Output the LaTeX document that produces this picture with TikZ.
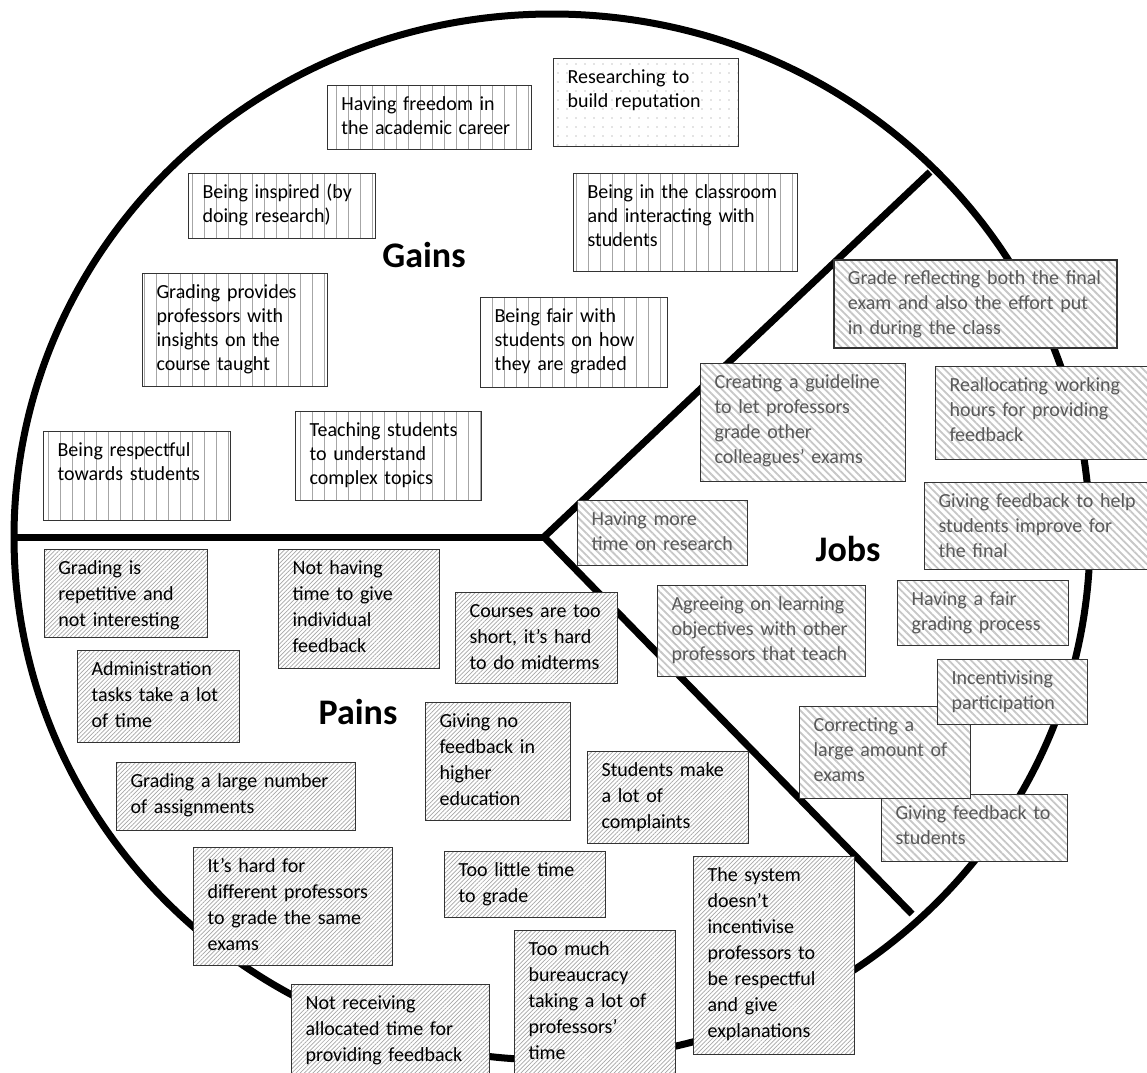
\documentclass[tikz,border=0pt]{standalone}
\usepackage{fontspec}
\setmainfont{Carlito}
\usepackage[rgb]{xcolor}
\usepackage{tikz}
\usetikzlibrary{patterns.meta}

\tikzset{
  rim/.style={draw=black, line width=7pt},
  divider/.style={draw=black, line width=7pt, line join=miter},
  card/.style={anchor=north west, draw=black!80, line width=1.2pt, inner xsep=14pt, inner ysep=8pt,
    text height=17pt, align=left, font=\fontsize{20}{24}\selectfont, preaction={fill=white}},
  cardsize/.style 2 args={text width={#1pt-28pt}, text depth={#2pt-33pt}},
  gain/.style={card, text=black, pattern={Lines[angle=90, distance=12pt, line width=0.6pt]}, pattern color=black!35},
  rep/.style={card, text=black, pattern={Dots[distance=9pt, radius=0.6pt]}, pattern color=black!45},
  pain/.style={card, text=black, font=\fontsize{20}{26}\selectfont,
    pattern={Lines[angle=45, distance=3pt, line width=0.7pt]}, pattern color=black!35},
  job/.style={card, text=black!65, font=\fontsize{20}{25}\selectfont,
    pattern={Lines[angle=-45, distance=5.2pt, line width=1.8pt]}, pattern color=black!22},
  title/.style={font=\fontsize{36}{40}\selectfont\bfseries, text=black}
}

\begin{document}
\begin{tikzpicture}[x=1pt, y=-1pt]

\useasboundingbox (0,0) rectangle (1147,1072);
\clip (0,0) rectangle (1147,1072);


% Profile rim and dividers
\coordinate (hub) at (544,537);
\coordinate (west) at (12,537);
\coordinate (northeast) at (930,172);
\coordinate (southeast) at (912,914);

\draw[rim] (552,537) ellipse [x radius=538, y radius=523];
\draw[divider] (northeast) -- (hub) -- (southeast);
\draw[divider] (west) -- (hub);

\path
(424,255) node[title] (gains) {Gains}
(358,712) node[title] (pains) {Pains}
(848,549) node[title] (jobs) {Jobs};


% Gains
\node[gain, cardsize={204}{64}] (freedom) at (327,85) {Having freedom in\\the academic career};
\node[rep, cardsize={185}{88}] (reputation) at (553,58) {Researching to\\build reputation};
\node[gain, cardsize={187}{65}] (inspired) at (188,173) {Being inspired (by\\doing research)};
\node[gain, cardsize={224}{98}] (classroom) at (573,173) {Being in the classroom\\and interacting with\\students};
\node[gain, cardsize={185}{113}] (insights) at (142,273) {Grading provides\\professors with\\insights on the\\course taught};
\node[gain, cardsize={187}{90}] (fair) at (480,297) {Being fair with\\students on how\\they are graded};
\node[gain, cardsize={186}{89}] (teaching) at (295,411) {Teaching students\\to understand\\complex topics};
\node[gain, cardsize={187}{89}] (respect) at (43,431) {Being respectful\\towards students};


% Pains
\node[pain, cardsize={163}{88}] (repetitive) at (44,549) {Grading is\\repetitive and\\not interesting};
\node[pain, cardsize={161}{119}] (notime) at (278,549) {Not having\\time to give\\individual\\feedback};
\node[pain, cardsize={162}{91}] (short) at (455,592) {Courses are too\\short, it’s hard\\to do midterms};
\node[pain, cardsize={162}{92}] (admin) at (77,650) {Administration\\tasks take a lot\\of time};
\node[pain, cardsize={145}{118}] (nofeedback) at (425,702) {Giving no\\feedback in\\higher\\education};
\node[pain, cardsize={239}{68}] (assignments) at (116,762) {Grading a large number\\of assignments};
\node[pain, cardsize={161}{92}] (complaints) at (587,751) {Students make\\a lot of\\complaints};
\node[pain, cardsize={199}{118}] (samegrade) at (193,847) {It’s hard for\\different professors\\to grade the same\\exams};
\node[pain, cardsize={161}{66}] (littletime) at (444,851) {Too little time\\to grade};
\node[pain, cardsize={161}{150}] (bureaucracy) at (514,930) {Too much\\bureaucracy\\taking a lot of\\professors’\\time};
\node[pain, cardsize={198}{96}] (allocated) at (291,984) {Not receiving\\allocated time for\\providing feedback};
\node[pain, cardsize={161}{198}] (system) at (693,856) {The system\\doesn’t\\incentivise\\professors to\\be respectful\\and give\\explanations};


% Jobs
\node[job, cardsize={283}{88}] (effort) at (833,259) {Grade reflecting both the final\\exam and also the effort put\\in during the class};
\node[job, cardsize={205}{118}] (guideline) at (700,363) {Creating a guideline\\to let professors\\grade other\\colleagues’ exams};
\node[job, cardsize={225}{93}] (hours) at (935,366) {Reallocating working\\hours for providing\\feedback};
\node[job, cardsize={170}{65}] (research) at (577,500) {Having more\\time on research};
\node[job, cardsize={236}{87}] (improve) at (924,482) {Giving feedback to help\\students improve for\\the final};
\node[job, cardsize={208}{91}] (objectives) at (657,585) {Agreeing on learning\\objectives with other\\professors that teach};
\node[job, cardsize={171}{65}] (process) at (897,580) {Having a fair\\grading process};
\node[job, cardsize={186}{67}] (tostudents) at (881,794) {Giving feedback to\\students};
\node[job, cardsize={171}{92}] (correcting) at (799,706) {Correcting a\\large amount of\\exams};
\node[job, cardsize={150}{65}] (participation) at (937,659) {Incentivising\\participation};


\end{tikzpicture}
\end{document}
